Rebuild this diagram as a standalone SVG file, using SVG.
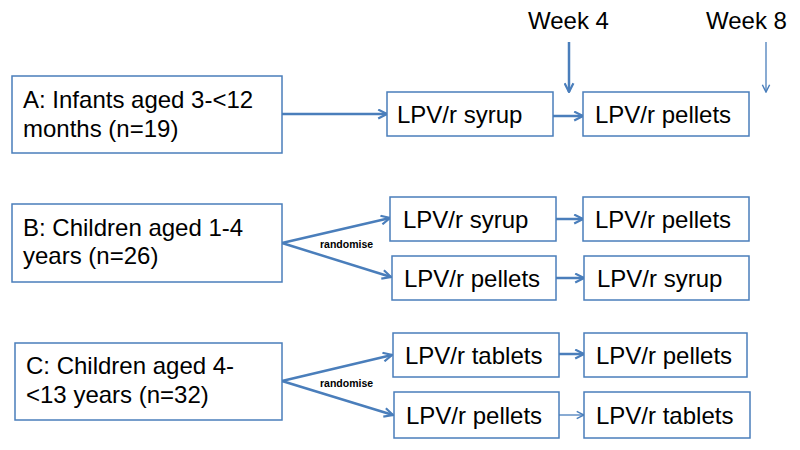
<svg xmlns="http://www.w3.org/2000/svg" width="800" height="450" viewBox="0 0 800 450">
<defs>
<marker id="ah" viewBox="0 0 10 10" refX="9" refY="5" markerWidth="4.4" markerHeight="4.4" orient="auto" markerUnits="strokeWidth">
<path d="M1,1 L9,5 L1,9" fill="none" stroke="#4a7ebb" stroke-width="2"/>
</marker>
<marker id="ah2" viewBox="0 0 10 10" refX="9" refY="5" markerWidth="7" markerHeight="7" orient="auto" markerUnits="strokeWidth">
<path d="M1,1 L9,5 L1,9" fill="none" stroke="#4a7ebb" stroke-width="1.6"/>
</marker>
</defs>
<style>
.box{fill:#fff;stroke:#4a7ebb;stroke-width:1.5}
.t{font-family:"Liberation Sans",Arial,sans-serif;font-size:24px;fill:#000}
.r{font-family:"Liberation Sans",Arial,sans-serif;font-size:10.5px;font-weight:bold;fill:#000}
.c{stroke:#4a7ebb;stroke-width:2.5;fill:none;marker-end:url(#ah)}
.c2{stroke:#4a7ebb;stroke-width:1.3;fill:none;marker-end:url(#ah2)}
</style>
<rect width="800" height="450" fill="#fff"/>
<g id="connectors">
<line class="c" x1="282" y1="114" x2="387" y2="114"/>
<line class="c" x1="553" y1="116" x2="583" y2="116"/>
<line class="c" x1="569" y1="42" x2="569" y2="92"/>
<line class="c2" x1="766" y1="42" x2="766" y2="92"/>
<line class="c" x1="282" y1="243" x2="390" y2="218"/>
<line class="c" x1="282" y1="243" x2="391" y2="277"/>
<line class="c" x1="556" y1="219" x2="583" y2="219"/>
<line class="c" x1="556" y1="278" x2="584" y2="278"/>
<line class="c" x1="282" y1="381" x2="392" y2="355"/>
<line class="c" x1="282" y1="381" x2="393" y2="415"/>
<line class="c" x1="559" y1="354" x2="584" y2="354"/>
<line class="c2" x1="559" y1="415" x2="584" y2="415"/>
<text class="r" x="320" y="248">randomise</text>
<text class="r" x="320" y="387">randomise</text>
</g>
<g id="week4"><text class="t" x="528" y="29">Week 4</text></g>
<g id="week8"><text class="t" x="706" y="29">Week 8</text></g>
<g id="groupA"><rect class="box" x="12" y="76" width="270" height="77"/>
<text class="t" x="23" y="108">A: Infants aged 3-&lt;12</text>
<text class="t" x="23" y="137">months (n=19)</text></g>
<g id="A1"><rect class="box" x="387" y="92" width="166" height="44"/><text class="t" x="397" y="123">LPV/r syrup</text></g>
<g id="A2"><rect class="box" x="583" y="92" width="166" height="44"/><text class="t" x="595" y="123">LPV/r pellets</text></g>
<g id="groupB"><rect class="box" x="12" y="204" width="270" height="78"/>
<text class="t" x="23" y="236">B: Children aged 1-4</text>
<text class="t" x="23" y="264">years (n=26)</text></g>
<g id="B1"><rect class="box" x="390" y="197" width="166" height="44"/><text class="t" x="403" y="228">LPV/r syrup</text></g>
<g id="B2"><rect class="box" x="583" y="197" width="166" height="44"/><text class="t" x="595" y="228">LPV/r pellets</text></g>
<g id="B3"><rect class="box" x="392" y="256" width="164" height="44"/><text class="t" x="404" y="287">LPV/r pellets</text></g>
<g id="B4"><rect class="box" x="584" y="256" width="165" height="44"/><text class="t" x="597" y="287">LPV/r syrup</text></g>
<g id="groupC"><rect class="box" x="15" y="343" width="267" height="77"/>
<text class="t" x="26" y="374">C: Children aged 4-</text>
<text class="t" x="26" y="403">&lt;13 years (n=32)</text></g>
<g id="C1"><rect class="box" x="393" y="333" width="166" height="44"/><text class="t" x="405" y="364">LPV/r tablets</text></g>
<g id="C2"><rect class="box" x="584" y="333" width="163" height="44"/><text class="t" x="596" y="364">LPV/r pellets</text></g>
<g id="C3"><rect class="box" x="394" y="392" width="165" height="46"/><text class="t" x="406" y="424">LPV/r pellets</text></g>
<g id="C4"><rect class="box" x="584" y="392" width="166" height="46"/><text class="t" x="596" y="424">LPV/r tablets</text></g>
</svg>
